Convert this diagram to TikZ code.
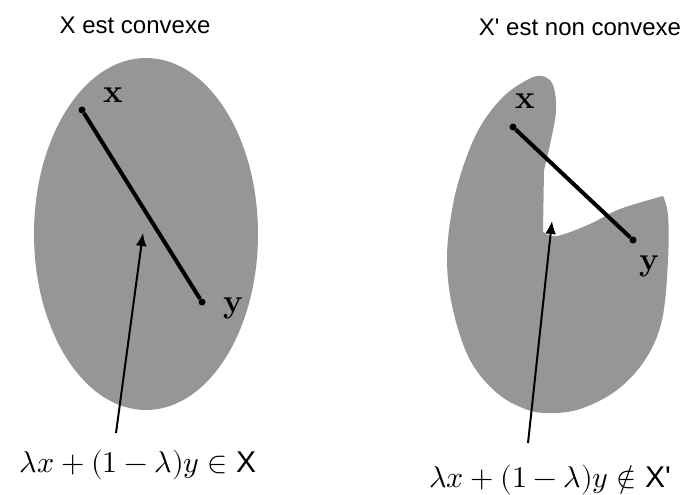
\documentclass[tikz,border=0pt]{standalone}
\usepackage{fontspec}
\setmainfont{Liberation Sans}
\newfontfamily\ptfont{Latin Modern Roman}
\usepackage{unicode-math}
\setmathfont{Latin Modern Math}
\usetikzlibrary{arrows.meta}
\definecolor{shapegray}{RGB}{150,150,150}
\tikzset{
  region/.style={fill=shapegray, draw=none},
  dotpt/.style={circle, fill=black, inner sep=0pt, minimum size=7pt},
  seg/.style={line width=4pt},
  ptlabel/.style={font=\ptfont\bfseries\fontsize{33}{33}\selectfont, inner sep=0pt},
  title/.style={font=\fontsize{24}{28}\selectfont, inner sep=0pt},
  formula/.style={font=\fontsize{30}{32}\selectfont, inner sep=0pt},
  pointer/.style={line width=2pt, -{Latex[length=13pt,width=11pt]}},
}
\begin{document}
\begin{tikzpicture}[x=1pt,y=-1pt]
\useasboundingbox (0,0) rectangle (685,495);
% titles
\node[title] (t1) at (135,25) {X est convexe};
\node[title] (t2) at (580,27) {X\textquotesingle\ est non convexe};
% left convex region
\fill[region] (146,234) ellipse [x radius=112, y radius=176];
% right non-convex region
\fill[region] plot[smooth, tension=0.6] coordinates {(543,232) (557,236) (590,224) (620,209) (663,196)}
  -- plot[smooth, tension=0.6] coordinates {(663,196) (668,215) (668,260) (662,320) (645,360) (617,390) (583,408) (555,413) (528,410) (497,393) (470,360) (453,310) (447,260) (452,210) (463,167) (480,127) (503,97) (527,80) (542,76) (553,85) (556,110) (551,140) (544,170)}
  -- cycle;
% left points
\node[dotpt] (lx) at (82,110) {};
\node[dotpt] (ly) at (202,302) {};
\draw[seg] (lx) -- (ly);
\node[ptlabel] (lxl) at (113,95) {x};
\node[ptlabel] (lyl) at (233,308) {y};
% right points
\node[dotpt] (rx) at (513,127) {};
\node[dotpt] (ry) at (633,240) {};
\draw[seg] (rx) -- (ry);
\node[ptlabel] (rxl) at (525,101) {x};
\node[ptlabel] (ryl) at (649,266) {y};
% formulas
\node[formula] (f1) at (138,465) {$\lambda x+(1-\lambda)y\in$ X};
\node[formula] (f2) at (550,480) {$\lambda x+(1-\lambda)y\notin$ X\textquotesingle};
% pointers
\coordinate (a1s) at (116,433);
\coordinate (a1t) at (143,233);
\coordinate (a2s) at (528,443);
\coordinate (a2t) at (552,221);
\draw[pointer] (a1s) -- (a1t);
\draw[pointer] (a2s) -- (a2t);
\end{tikzpicture}
\end{document}
